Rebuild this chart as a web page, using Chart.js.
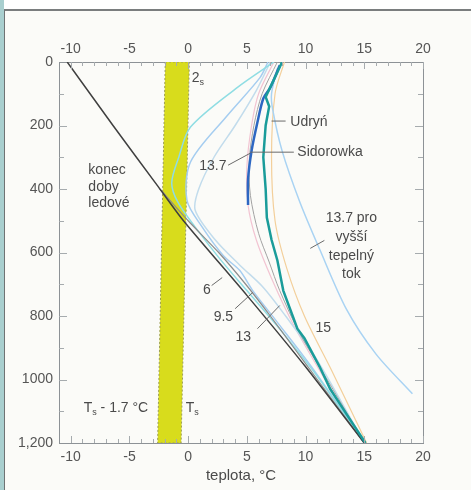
<!DOCTYPE html>
<html>
<head>
<meta charset="utf-8">
<script src="https://cdn.jsdelivr.net/npm/chart.js@4.4.1/dist/chart.umd.min.js"></script>
<style>
  html, body { margin: 0; padding: 0; background: #fff; }
  #wrap { position: relative; width: 471px; height: 490px; overflow: hidden; }
  #strip { position: absolute; left: 0; top: 0; width: 4px; height: 490px; background: #a9cfcf; }
  #panel { position: absolute; left: 4px; top: 9px; right: 0; bottom: 0; background: #fbfbf8;
           border-left: 1px solid #6f7374; border-top: 2px solid #7a7d7e; }
  canvas { position: absolute; left: 0; top: 0; }
</style>
</head>
<body>
<div id="wrap">
  <div id="strip"></div>
  <div id="panel"></div>
  <canvas id="profil" width="471" height="490"></canvas>
</div>
<script>
// osy
const xTicks = [-10, -5, 0, 5, 10, 15, 20];
const yTicks = [0, 200, 400, 600, 800, 1000, 1200];
const yTickText = ["0", "200", "400", "600", "800", "1000", "1,200"];

// teplota povrchu v době ledové (pás Ts)
const bandTemp = [-1.95, -2.6, -0.6, 0.1, -1.95];
const bandDepth = [0, 1200, 1200, 0, 0];

// lineární profil bez ledové doby
const blackTemp = [-10.3, -6.4, -2.6, -0.4, 5.0, 10.0, 15.0];
const blackDepth = [0, 200, 390, 500, 735, 960, 1200];
const grayTemp = [-2.4, 0.0, 2.6, 4.9, 7.0, 9.0, 11.0, 13.0, 15.0];
const grayDepth = [400, 500, 600, 700, 800, 900, 1000, 1100, 1200];

// měřené profily
const sidorTemp = [8.0, 7.5, 6.6, 6.9, 6.6, 6.4, 6.6, 6.7, 7.1, 7.6, 8.1, 8.9, 9.3, 9.9, 11.2, 12.1, 13.5, 15.1];
const sidorDepth = [0, 40, 110, 140, 200, 300, 400, 490, 560, 625, 720, 800, 840, 870, 960, 1030, 1110, 1200];
const udrynTemp = [7.8, 7.0, 6.4, 5.9, 5.4, 5.1, 5.1];
const udrynDepth = [10, 80, 115, 190, 280, 370, 450];

// modelové profily (konec doby ledové před x tisíci lety)
const m6Temp = [7.3, 4.2, 0.2, -0.8, -1.4, -0.9, 0.6, 2.7, 5.0, 8.0, 11.2, 15.0];
const m6Depth = [0, 80, 205, 300, 380, 440, 520, 620, 720, 850, 1000, 1200];
const m95Temp = [6.8, 6.1, 3.3, 0.2, -0.1, 1.2, 3.0, 4.4, 5.5, 7.6, 10.5, 15.0];
const m95Depth = [0, 50, 170, 315, 436, 520, 610, 657, 720, 820, 960, 1200];
const m13Temp = [7.0, 5.8, 4.0, 2.2, 0.9, 0.6, 2.3, 4.4, 6.4, 8.3, 11.0, 15.0];
const m13Depth = [0, 90, 200, 300, 400, 467, 560, 640, 710, 800, 940, 1200];
const m137Temp = [7.6, 6.3, 5.6, 5.2, 5.3, 6.0, 6.9, 7.8, 9.5, 12.0, 15.0];
const m137Depth = [0, 100, 200, 310, 420, 540, 630, 720, 855, 1010, 1200];
const m15Temp = [8.2, 7.4, 7.1, 7.4, 8.4, 9.9, 12.2, 15.2];
const m15Depth = [0, 100, 300, 500, 650, 800, 970, 1200];
const pinkTemp = [7.3, 6.0, 5.4, 5.0, 5.1, 5.8, 7.2, 9.0, 11.5, 15.0];
const pinkDepth = [0, 100, 200, 330, 450, 560, 690, 830, 990, 1200];
const tokTemp = [7.6, 7.1, 7.2, 8.0, 9.5, 11.2, 13.5, 16.0, 19.1];
const tokDepth = [20, 100, 150, 280, 440, 590, 780, 920, 1045];

function profil(temp, depth) {
  return temp.map((t, i) => ({ x: t, y: depth[i] }));
}

function cara(temp, depth, color, width, tension) {
  return {
    data: profil(temp, depth),
    borderColor: color,
    borderWidth: width,
    showLine: true,
    pointRadius: 0,
    tension: tension ?? 0.3,
    fill: false
  };
}

// popisky v souřadnicích grafu
const popisky = [
  { t: "konec", x: -8.5, y: 341, a: "left" },
  { t: "doby", x: -8.5, y: 395, a: "left" },
  { t: "ledové", x: -8.5, y: 446, a: "left" },
  { t: "13.7 pro", x: 13.9, y: 493, a: "center" },
  { t: "vyšší", x: 13.9, y: 553, a: "center" },
  { t: "tepelný", x: 13.9, y: 613, a: "center" },
  { t: "tok", x: 13.9, y: 667, a: "center" },
  { t: "Udryń", x: 8.7, y: 189, a: "left" },
  { t: "Sidorowka", x: 9.3, y: 284, a: "left" },
  { t: "13.7", x: 2.1, y: 328, a: "center" },
  { t: "6", x: 1.6, y: 720, a: "center" },
  { t: "9.5", x: 3.0, y: 805, a: "center" },
  { t: "13", x: 4.7, y: 868, a: "center" },
  { t: "15", x: 11.5, y: 837, a: "center" },
  { t: "2", sub: "s", x: 0.3, y: 50, a: "left" },
  { t: "T", sub: "s", rest: " - 1.7 °C", x: -8.9, y: 1089, a: "left" },
  { t: "T", sub: "s", x: -0.2, y: 1089, a: "left" }
];
const vodici = [
  [7.1, 186, 8.3, 186],
  [5.3, 284, 9.0, 284],
  [3.4, 325, 5.3, 287],
  [10.4, 587, 11.6, 562],
  [2.0, 704, 2.9, 679],
  [4.0, 777, 5.5, 726],
  [5.9, 840, 7.8, 767]
];

const carky = {
  id: "carky",
  afterDatasetsDraw(chart) {
    const { ctx, chartArea: a, scales } = chart;
    ctx.save();
    ctx.strokeStyle = "#a6abae";
    ctx.lineWidth = 1;
    ctx.beginPath();
    for (let v = -10; v <= 20; v++) {
      const px = Math.round(scales.x.getPixelForValue(v)) + 0.5;
      const len = v % 5 === 0 ? 7 : 4;
      ctx.moveTo(px, a.top); ctx.lineTo(px, a.top + len);
      ctx.moveTo(px, a.bottom); ctx.lineTo(px, a.bottom - len);
    }
    for (let d = 100; d < 1200; d += 100) {
      const py = Math.round(scales.y.getPixelForValue(d)) + 0.5;
      const len = d % 200 === 0 ? 8 : 5;
      ctx.moveTo(a.left, py); ctx.lineTo(a.left + len, py);
      ctx.moveTo(a.right, py); ctx.lineTo(a.right - len, py);
    }
    ctx.stroke();

    // vodicí čáry
    ctx.strokeStyle = "#6a6a6a";
    ctx.beginPath();
    vodici.forEach(([x1, y1, x2, y2]) => {
      ctx.moveTo(scales.x.getPixelForValue(x1), scales.y.getPixelForValue(y1));
      ctx.lineTo(scales.x.getPixelForValue(x2), scales.y.getPixelForValue(y2));
    });
    ctx.stroke();

    // texty
    ctx.fillStyle = "#4a4a4a";
    ctx.textBaseline = "middle";
    popisky.forEach(p => {
      let px = scales.x.getPixelForValue(p.x);
      const py = scales.y.getPixelForValue(p.y);
      ctx.font = '14px "Liberation Sans", Arial, sans-serif';
      ctx.textAlign = p.a;
      ctx.fillText(p.t, px, py);
      if (p.sub) {
        px += ctx.measureText(p.t).width;
        ctx.textAlign = "left";
        ctx.font = '9px "Liberation Sans", Arial, sans-serif';
        ctx.fillText(p.sub, px, py + 5);
        px += ctx.measureText(p.sub).width;
        if (p.rest) {
          ctx.font = '14px "Liberation Sans", Arial, sans-serif';
          ctx.fillText(p.rest, px, py);
        }
      }
    });
    ctx.restore();
  }
};

const font = { family: '"Liberation Sans", Arial, sans-serif', size: 14 };
const osaX = (pos, pad, h) => ({
  type: "linear",
  position: pos,
  min: -11,
  max: 20,
  afterBuildTicks: s => { s.ticks = xTicks.map(v => ({ value: v })); },
  afterFit: s => { s.height = h; },
  ticks: { color: "#555", font, padding: pad, maxRotation: 0 },
  grid: { display: false, drawTicks: false },
  border: { display: true, color: "#8d9296" }
});

const ctx = document.getElementById("profil").getContext("2d");
new Chart(ctx, {
  type: "scatter",
  data: {
    datasets: [
      cara(sidorTemp, sidorDepth, "#1a9c9a", 2.5, 0),
      cara(udrynTemp, udrynDepth, "#2d67c2", 2.5),
      cara(blackTemp, blackDepth, "#3f3f3f", 1.5, 0.2),
      cara(grayTemp, grayDepth, "#8c8c8c", 1.2, 0.2),
      cara(m137Temp, m137Depth, "#a2a2a2", 1),
      cara(tokTemp, tokDepth, "#a9d3f3", 1.5),
      cara(m6Temp, m6Depth, "#8fdde3", 1.5),
      cara(m95Temp, m95Depth, "#a5cdf0", 1.5),
      cara(m13Temp, m13Depth, "#c2dcec", 1.5),
      cara(m15Temp, m15Depth, "#f3cf9a", 1.2),
      cara(pinkTemp, pinkDepth, "#f2c4d2", 1.2),
      {
        data: profil(bandTemp, bandDepth),
        showLine: true,
        pointRadius: 0,
        tension: 0,
        fill: "shape",
        backgroundColor: "#d8dc1c",
        borderColor: "#9b9c55",
        borderWidth: 1,
        borderDash: [2, 2]
      }
    ]
  },
  options: {
    responsive: false,
    animation: false,
    devicePixelRatio: 1,
    layout: { padding: { left: 0, top: 0, right: 48, bottom: 0 } },
    plugins: { legend: { display: false }, tooltip: { enabled: false } },
    scales: {
      x: {
        ...osaX("bottom", 6, 47),
        title: { display: true, text: "teplota, °C", color: "#4a4a4a",
                 font: { family: font.family, size: 15 }, padding: { top: 0, bottom: 5 } }
      },
      x2: osaX("top", 4, 62),
      y: {
        type: "linear",
        position: "left",
        reverse: true,
        min: 0,
        max: 1200,
        afterBuildTicks: s => { s.ticks = yTicks.map(v => ({ value: v })); },
        afterFit: s => { s.width = 59; },
        ticks: { color: "#555", font, padding: 6, callback: v => yTickText[yTicks.indexOf(v)] },
        grid: { display: false, drawTicks: false },
        border: { display: true, color: "#8d9296" }
      },
      y2: {
        type: "linear",
        position: "right",
        reverse: true,
        min: 0,
        max: 1200,
        ticks: { display: false },
        grid: { display: false, drawTicks: false },
        border: { display: true, color: "#8d9296" }
      }
    }
  },
  plugins: [carky]
});
</script>
</body>
</html>
